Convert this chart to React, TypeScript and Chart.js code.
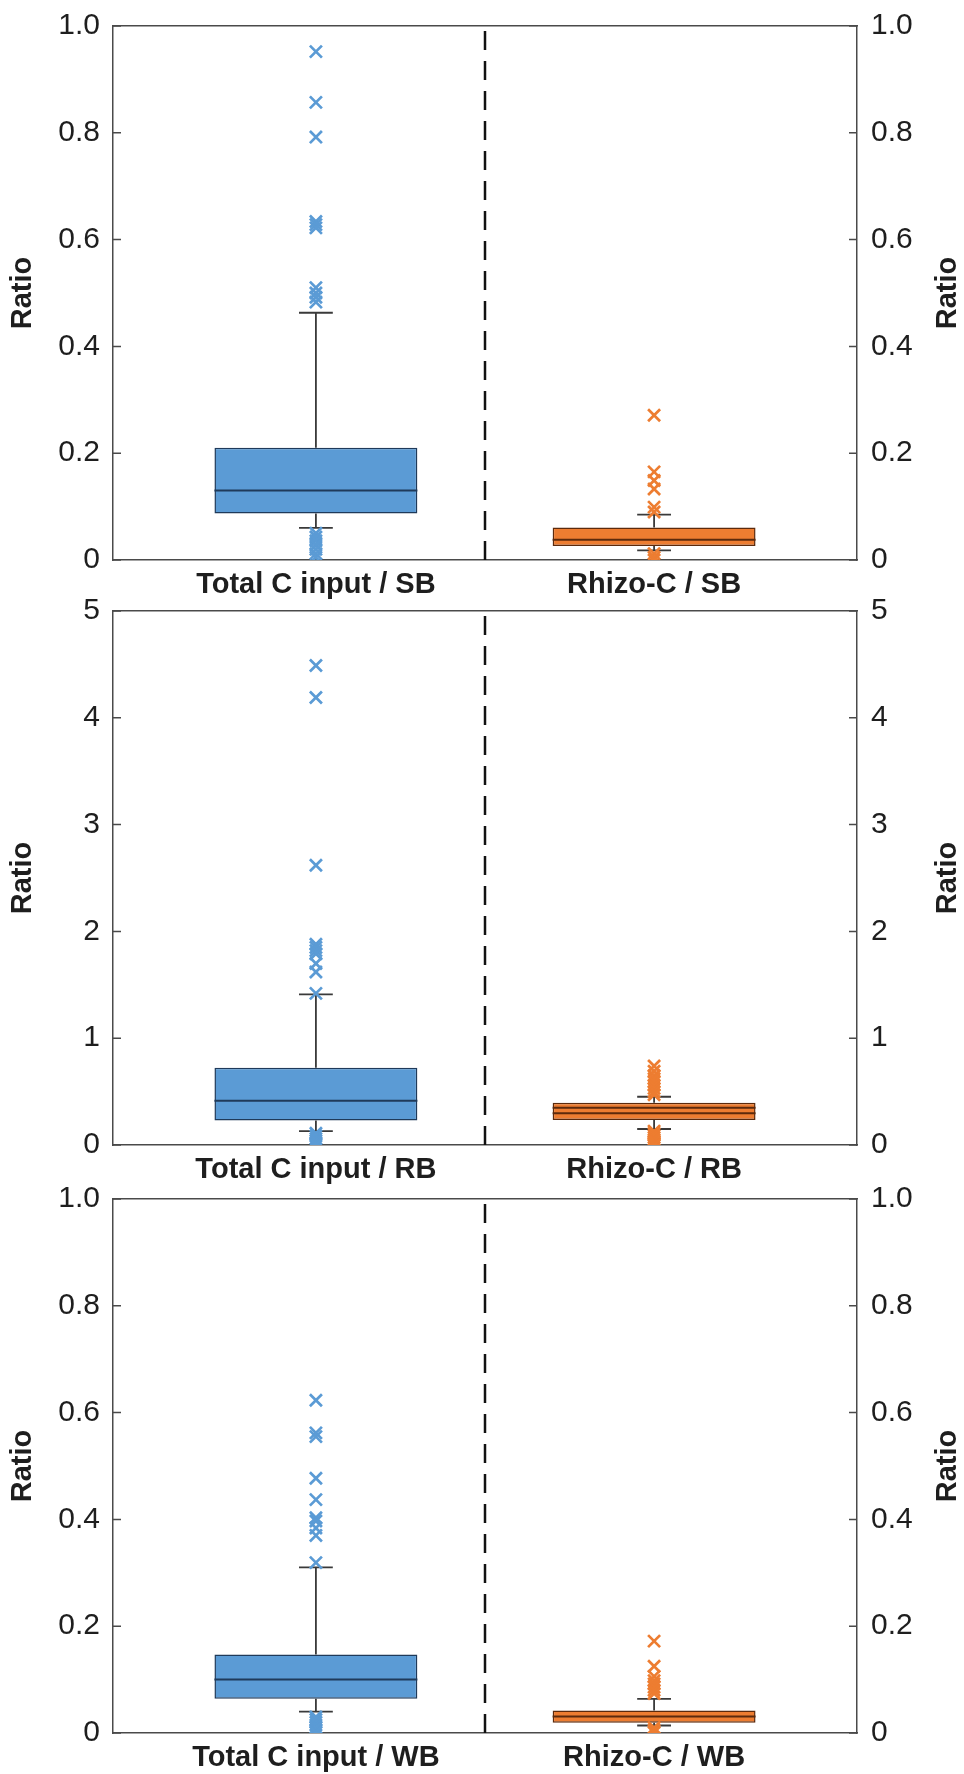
import React, { useEffect, useRef } from 'react';
import { Chart, registerables } from 'chart.js';

Chart.register(...registerables);

// ---------------- data ----------------
const AXIS_TITLE = 'Ratio';

const SB_CATEGORIES = ['Total C input / SB', 'Rhizo-C / SB'];
const SB_LOW = [0.06, 0.018];
const SB_Q1 = [0.087, 0.026];
const SB_MEDIAN = [0.13, 0.038];
const SB_Q3 = [0.21, 0.061];
const SB_HIGH = [0.463, 0.085];
const SB_EXTRA = [null, null];
const SB_OUT_TOTAL = [0.952, 0.857, 0.792, 0.634, 0.628, 0.622, 0.51, 0.5, 0.492, 0.483, 0.05, 0.043, 0.036, 0.028, 0.02, 0.012, 0.005];
const SB_OUT_RHIZO = [0.271, 0.165, 0.149, 0.133, 0.099, 0.09, 0.012, 0.005, 0.0];
const SB_TICKS = [0, 0.2, 0.4, 0.6, 0.8, 1.0];

const RB_CATEGORIES = ['Total C input / RB', 'Rhizo-C / RB'];
const RB_LOW = [0.129, 0.15];
const RB_Q1 = [0.229, 0.234];
const RB_MEDIAN = [0.415, 0.297];
const RB_Q3 = [0.723, 0.396];
const RB_HIGH = [1.41, 0.452];
const RB_EXTRA = [null, 0.349];
const RB_OUT_TOTAL = [4.49, 4.19, 2.62, 1.88, 1.85, 1.82, 1.79, 1.7, 1.62, 1.42, 0.11, 0.085, 0.06, 0.04, 0.02, 0.005];
const RB_OUT_RHIZO = [0.74, 0.69, 0.65, 0.62, 0.59, 0.56, 0.53, 0.5, 0.47, 0.13, 0.11, 0.09, 0.07, 0.05, 0.035, 0.02, 0.01, 0.0];
const RB_TICKS = [0, 1, 2, 3, 4, 5];

const WB_CATEGORIES = ['Total C input / WB', 'Rhizo-C / WB'];
const WB_LOW = [0.04, 0.014];
const WB_Q1 = [0.064, 0.019];
const WB_MEDIAN = [0.1, 0.031];
const WB_Q3 = [0.147, 0.042];
const WB_HIGH = [0.31, 0.064];
const WB_EXTRA = [null, null];
const WB_OUT_TOTAL = [0.623, 0.562, 0.555, 0.477, 0.437, 0.403, 0.397, 0.384, 0.37, 0.319, 0.03, 0.025, 0.02, 0.015, 0.01, 0.005, 0.002];
const WB_OUT_RHIZO = [0.172, 0.125, 0.106, 0.098, 0.092, 0.086, 0.08, 0.074, 0.01, 0.005, 0.001];
const WB_TICKS = [0, 0.2, 0.4, 0.6, 0.8, 1.0];

// ---------------- styles ----------------
const FONT = '"Liberation Sans", Arial, Helvetica, sans-serif';
const TEXT = '#1e1e1e';
const FRAME = '#4a4a4a';
const FILLS = ['#5B9BD5', '#ED7D31'];
const EDGES = ['#1F3A5A', '#5C2A0C'];
const WHISKER = '#3a3a3a';
const DIVIDER = '#111111';
const TICK_SIZE = 30;
const LABEL_SIZE = 29;

const X_MIN = 0.4;
const X_MAX = 2.6;
const BOX_WIDTH = 0.6;
const CAP_HALF = 0.05;
const CANVAS_W = 964;
const CANVAS_H = 600;
const PLOT_TOP = 26;
const X_AXIS_H = 40;
const LEFT_AXIS_W = 113;
const RIGHT_AXIS_W = 107;
const CANVAS_TOPS = [0, 585, 1173];

type Panel = {
  categories: string[];
  low: number[];
  q1: number[];
  median: number[];
  q3: number[];
  high: number[];
  extra: (number | null)[];
  outliers: number[][];
  ticks: number[];
  decimals: number;
};

const PANELS: Panel[] = [
  { categories: SB_CATEGORIES, low: SB_LOW, q1: SB_Q1, median: SB_MEDIAN, q3: SB_Q3, high: SB_HIGH, extra: SB_EXTRA, outliers: [SB_OUT_TOTAL, SB_OUT_RHIZO], ticks: SB_TICKS, decimals: 1 },
  { categories: RB_CATEGORIES, low: RB_LOW, q1: RB_Q1, median: RB_MEDIAN, q3: RB_Q3, high: RB_HIGH, extra: RB_EXTRA, outliers: [RB_OUT_TOTAL, RB_OUT_RHIZO], ticks: RB_TICKS, decimals: 0 },
  { categories: WB_CATEGORIES, low: WB_LOW, q1: WB_Q1, median: WB_MEDIAN, q3: WB_Q3, high: WB_HIGH, extra: WB_EXTRA, outliers: [WB_OUT_TOTAL, WB_OUT_RHIZO], ticks: WB_TICKS, decimals: 1 },
];

const fmtTick = (v: number, decimals: number) => (v === 0 ? '0' : v.toFixed(decimals));

const extrasPlugin = {
  id: 'panelExtras',
  afterDraw(chart: any) {
    const { ctx, chartArea: a } = chart;
    const ys = chart.scales.y;
    ctx.save();
    ctx.strokeStyle = FRAME;
    ctx.lineWidth = 1.5;
    ys.ticks.forEach((t: any) => {
      const py = ys.getPixelForValue(t.value);
      ctx.beginPath();
      ctx.moveTo(a.left, py);
      ctx.lineTo(a.left + 8, py);
      ctx.moveTo(a.right - 8, py);
      ctx.lineTo(a.right, py);
      ctx.stroke();
    });
    ctx.fillStyle = TEXT;
    ctx.font = `bold ${LABEL_SIZE}px ${FONT}`;
    ctx.textAlign = 'center';
    ctx.textBaseline = 'middle';
    ctx.translate(chart.width - 16, (a.top + a.bottom) / 2);
    ctx.rotate(-Math.PI / 2);
    ctx.fillText(AXIS_TITLE, 0, 0);
    ctx.restore();
  },
};

function buildConfig(p: Panel): any {
  const yMax = p.ticks[p.ticks.length - 1];
  const datasets: any[] = [];

  // dashed divider between the two groups
  datasets.push({
    type: 'line',
    data: [{ x: 1.5, y: 0 }, { x: 1.5, y: yMax }],
    borderColor: DIVIDER,
    borderWidth: 2.5,
    borderDash: [19, 11],
    pointRadius: 0,
    order: 1,
  });

  p.categories.forEach((_, i) => {
    const c = i + 1;
    const hw = BOX_WIDTH / 2;
    // outliers
    datasets.push({
      type: 'scatter',
      data: p.outliers[i].map((v) => ({ x: c, y: v })),
      pointStyle: 'crossRot',
      pointRadius: 8.5,
      pointBorderWidth: 2.7,
      pointBorderColor: FILLS[i],
      pointBackgroundColor: FILLS[i],
      showLine: false,
      order: 2,
    });
    // median (and second inner line where present)
    const med: any[] = [
      { x: c - hw, y: p.median[i] },
      { x: c + hw, y: p.median[i] },
    ];
    if (p.extra[i] !== null) {
      med.push({ x: c, y: null }, { x: c - hw, y: p.extra[i] }, { x: c + hw, y: p.extra[i] });
    }
    datasets.push({
      type: 'line',
      data: med,
      borderColor: EDGES[i],
      borderWidth: 2,
      pointRadius: 0,
      spanGaps: false,
      order: 3,
    });
    // whiskers + caps
    datasets.push({
      type: 'line',
      data: [
        { x: c, y: p.q3[i] }, { x: c, y: p.high[i] }, { x: c, y: null },
        { x: c - CAP_HALF, y: p.high[i] }, { x: c + CAP_HALF, y: p.high[i] }, { x: c, y: null },
        { x: c, y: p.q1[i] }, { x: c, y: p.low[i] }, { x: c, y: null },
        { x: c - CAP_HALF, y: p.low[i] }, { x: c + CAP_HALF, y: p.low[i] },
      ],
      borderColor: WHISKER,
      borderWidth: 1.8,
      pointRadius: 0,
      spanGaps: false,
      order: 4,
    });
  });

  // boxes (Q1..Q3)
  datasets.push({
    type: 'bar',
    data: p.q1.map((q, i) => ({ x: i + 1, y: [q, p.q3[i]] })),
    backgroundColor: FILLS,
    borderColor: EDGES,
    borderWidth: 1.5,
    borderSkipped: false,
    barPercentage: BOX_WIDTH,
    categoryPercentage: 1,
    order: 5,
  });

  const yCommon = {
    type: 'linear',
    min: 0,
    max: yMax,
    grid: { display: false, drawTicks: false },
    border: { display: true, color: FRAME, width: 1.5 },
    afterBuildTicks: (s: any) => {
      s.ticks = p.ticks.map((v) => ({ value: v }));
    },
  };

  return {
    data: { datasets },
    plugins: [extrasPlugin],
    options: {
      responsive: false,
      animation: false,
      devicePixelRatio: 1,
      layout: { padding: { top: PLOT_TOP, bottom: 0, left: 0, right: 0 } },
      plugins: { legend: { display: false }, tooltip: { enabled: false } },
      scales: {
        x: {
          type: 'linear',
          position: 'bottom',
          offset: false,
          min: X_MIN,
          max: X_MAX,
          grid: { display: false, drawTicks: false, offset: false },
          border: { display: true, color: FRAME, width: 1.5 },
          afterBuildTicks: (s: any) => {
            s.ticks = p.categories.map((_, i) => ({ value: i + 1 }));
          },
          ticks: {
            autoSkip: false,
            maxRotation: 0,
            minRotation: 0,
            padding: 8,
            color: TEXT,
            font: { family: FONT, size: LABEL_SIZE, weight: 'bold' },
            callback: (v: number) => p.categories[Math.round(v) - 1] ?? '',
          },
          afterFit: (s: any) => {
            s.height = X_AXIS_H;
          },
        },
        x2: {
          type: 'linear',
          position: 'top',
          offset: false,
          min: X_MIN,
          max: X_MAX,
          grid: { display: false, drawTicks: false, offset: false },
          border: { display: true, color: FRAME, width: 1.5 },
          ticks: { display: false },
          afterFit: (s: any) => {
            s.height = 0;
          },
        },
        y: {
          ...yCommon,
          position: 'left',
          ticks: {
            padding: 13,
            color: TEXT,
            font: { family: FONT, size: TICK_SIZE, lineHeight: 0.8 },
            callback: (v: number) => fmtTick(v, p.decimals),
          },
          title: {
            display: true,
            text: AXIS_TITLE,
            color: TEXT,
            font: { family: FONT, size: LABEL_SIZE, weight: 'bold' },
            padding: { top: 6, bottom: 0 },
          },
          afterFit: (s: any) => {
            s.width = LEFT_AXIS_W;
          },
        },
        y2: {
          ...yCommon,
          position: 'right',
          ticks: {
            padding: 14,
            color: TEXT,
            font: { family: FONT, size: TICK_SIZE, lineHeight: 0.8 },
            callback: (v: number) => fmtTick(v, p.decimals),
          },
          afterFit: (s: any) => {
            s.width = RIGHT_AXIS_W;
          },
        },
      },
    },
  };
}

function PanelChart({ panel, top }: { panel: Panel; top: number }) {
  const ref = useRef<HTMLCanvasElement | null>(null);
  useEffect(() => {
    if (!ref.current) return;
    const chart = new Chart(ref.current, buildConfig(panel));
    return () => chart.destroy();
  }, [panel]);
  return (
    <canvas
      ref={ref}
      width={CANVAS_W}
      height={CANVAS_H}
      style={{ position: 'absolute', left: 0, top, width: CANVAS_W, height: CANVAS_H, display: 'block' }}
    />
  );
}

export default function App() {
  return (
    <div style={{ position: 'absolute', left: 0, top: 0, width: 964, height: 1774, background: '#ffffff' }}>
      {PANELS.map((p, i) => (
        <PanelChart key={i} panel={p} top={CANVAS_TOPS[i]} />
      ))}
    </div>
  );
}
